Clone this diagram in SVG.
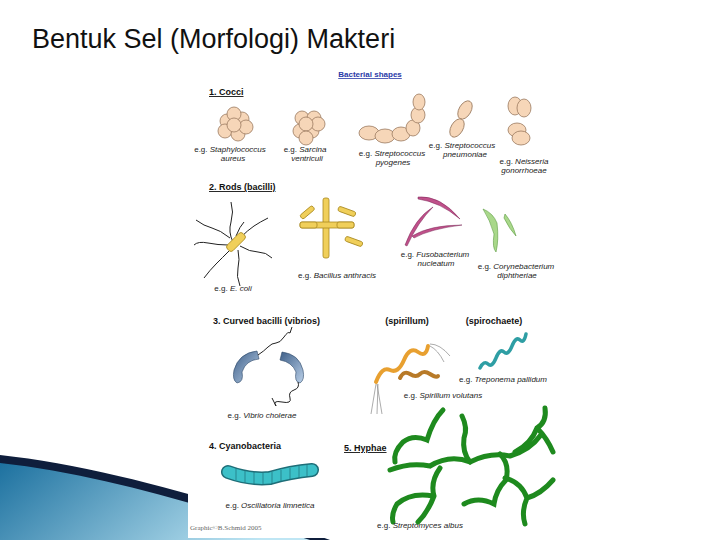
<svg xmlns="http://www.w3.org/2000/svg" width="720" height="540" viewBox="0 0 720 540">
<defs>
<style>
.t{font-family:"Liberation Sans",Arial,sans-serif;font-size:8px;fill:#222}
.h{font-family:"Liberation Sans",Arial,sans-serif;font-size:9px;font-weight:bold;fill:#111}
.c{fill:#f6d6b8;stroke:#9a7a60;stroke-width:0.8}
.r{fill:#f0cf5a;stroke:#a8881e;stroke-width:0.8}
.fl{fill:none;stroke:#222;stroke-width:1}
.hy{fill:none;stroke:#1e8a1e;stroke-width:5;stroke-linecap:round}
</style>
<linearGradient id="sw" x1="0" y1="0" x2="1" y2="0.3"><stop offset="0" stop-color="#1a6f9e"/><stop offset="1" stop-color="#bfe6f4"/></linearGradient>
<linearGradient id="vb" x1="0" y1="0" x2="1" y2="1"><stop offset="0" stop-color="#3e5f88"/><stop offset="1" stop-color="#b9cfe8"/></linearGradient>
</defs>
<rect width="720" height="540" fill="#fff"/>
<g id="swoosh">
<path d="M0,458 C100,470 220,505 330,540 L0,540 Z" fill="url(#sw)"/>
<path d="M0,455 C100,466 220,500 330,540 L310,540 C200,505 100,474 0,463 Z" fill="#0f1e3c"/>
</g>
<text x="32" y="48" font-family="Liberation Sans,Arial,sans-serif" font-size="27" fill="#111">Bentuk Sel (Morfologi) Makteri</text>
<g id="panel">
<rect x="188" y="63" width="367" height="475" fill="#fff"/>
<text x="370" y="77" class="t" text-anchor="middle" style="fill:#2a3aa8;font-weight:bold" text-decoration="underline">Bacterial shapes</text>
<text x="209" y="95" class="h" text-decoration="underline">1. Cocci</text>
<g id="staph">
<circle cx="227" cy="121" r="7" class="c"/><circle cx="242" cy="119" r="7" class="c"/><circle cx="234" cy="114" r="7" class="c"/>
<circle cx="225" cy="131" r="7" class="c"/><circle cx="238" cy="134" r="7" class="c"/><circle cx="246" cy="127" r="7" class="c"/><circle cx="234" cy="125" r="7" class="c"/>
</g>
<g id="sarcina">
<circle cx="302" cy="118" r="7" class="c"/><circle cx="314" cy="118" r="7" class="c"/><circle cx="300" cy="131" r="7" class="c"/><circle cx="312" cy="131" r="7" class="c"/>
<circle cx="318" cy="124" r="7" class="c"/><circle cx="306" cy="124" r="7" class="c"/><circle cx="306" cy="138" r="7" class="c"/>
</g>
<g id="strep">
<ellipse cx="369" cy="133" rx="10" ry="7" class="c"/><ellipse cx="385" cy="136" rx="10" ry="7" class="c"/><ellipse cx="401" cy="134" rx="9" ry="7" class="c"/>
<ellipse cx="413" cy="128" rx="7" ry="8" class="c"/><ellipse cx="418" cy="115" rx="7" ry="8" class="c"/><ellipse cx="419" cy="102" rx="6" ry="8" class="c"/>
</g>
<g id="pneu"><ellipse cx="465" cy="110" rx="6" ry="10" transform="rotate(30 465 110)" class="c"/><ellipse cx="457" cy="128" rx="6" ry="10" transform="rotate(30 457 128)" class="c"/></g>
<g id="neis"><ellipse cx="515" cy="106" rx="7" ry="9" class="c"/><ellipse cx="524" cy="108" rx="7" ry="9" class="c"/><ellipse cx="517" cy="130" rx="9" ry="7" class="c"/><ellipse cx="521" cy="138" rx="9" ry="7" class="c"/></g>
<text x="230" y="152" class="t" text-anchor="middle">e.g. <tspan font-style="italic">Staphylococcus</tspan></text>
<text x="233" y="161" class="t" text-anchor="middle" font-style="italic">aureus</text>
<text x="305" y="152" class="t" text-anchor="middle">e.g. <tspan font-style="italic">Sarcina</tspan></text>
<text x="307" y="161" class="t" text-anchor="middle" font-style="italic">ventriculi</text>
<text x="392" y="156" class="t" text-anchor="middle">e.g. <tspan font-style="italic">Streptococcus</tspan></text>
<text x="393" y="165" class="t" text-anchor="middle" font-style="italic">pyogenes</text>
<text x="462" y="148" class="t" text-anchor="middle">e.g. <tspan font-style="italic">Streptococcus</tspan></text>
<text x="465" y="157" class="t" text-anchor="middle" font-style="italic">pneumoniae</text>
<text x="524" y="164" class="t" text-anchor="middle">e.g. <tspan font-style="italic">Neisseria</tspan></text>
<text x="524" y="173" class="t" text-anchor="middle" font-style="italic">gonorrhoeae</text>
<text x="209" y="190" class="h" text-decoration="underline">2. Rods (bacilli)</text>
<g id="ecoli">
<path class="fl" d="M233,242 q-5,-10 -2,-20 t0,-20 M230,238 q-10,-8 -18,-10 t-16,-8 M228,245 q-10,0 -20,-2 t-14,2 M230,250 q-8,8 -14,14 t-12,14 M238,250 q2,10 0,18 t2,18 M240,246 q10,6 18,6 t14,6 M240,238 q8,-8 14,-12 t14,-8 M236,236 q4,-10 8,-14"/>
<rect x="225" y="238" width="22" height="8" rx="3" transform="rotate(-45 236 242)" class="r"/>
</g>
<g id="bacillus" class="r">
<rect x="323" y="198" width="6" height="60" rx="2"/><rect x="300" y="222" width="54" height="6" rx="2"/><rect x="300" y="222" width="17" height="6" rx="2"/><rect x="337" y="222" width="17" height="6" rx="2"/>
<rect x="299" y="210" width="16" height="5" rx="2" transform="rotate(-40 307 212)"/>
<rect x="338" y="209" width="18" height="5" rx="2" transform="rotate(20 347 211)"/>
<rect x="345" y="239" width="18" height="5" rx="2" transform="rotate(20 354 241)"/>
</g>
<g id="fuso" fill="#c0508a" stroke="#7a2a58" stroke-width="0.5">
<path d="M418,197 Q440,195 460,219 Q440,202 418,199 Z"/>
<path d="M405,245 Q415,218 433,207 Q418,222 407,246 Z"/>
<path d="M412,236 Q430,225 462,225 Q430,229 414,238 Z"/>
</g>
<g id="coryne" fill="#a9d88a" stroke="#5a9a40" stroke-width="0.6">
<path d="M483,209 Q493,213 497,223 Q499,240 496,252 Q492,248 494,234 Q490,220 483,209 Z"/>
<path d="M505,214 Q512,222 516,236 Q510,230 504,218 Z"/>
</g>
<text x="233" y="291" class="t" text-anchor="middle">e.g. <tspan font-style="italic">E. coli</tspan></text>
<text x="337" y="278" class="t" text-anchor="middle">e.g. <tspan font-style="italic">Bacillus anthracis</tspan></text>
<text x="435" y="257" class="t" text-anchor="middle">e.g. <tspan font-style="italic">Fusobacterium</tspan></text>
<text x="436" y="266" class="t" text-anchor="middle" font-style="italic">nucleatum</text>
<text x="516" y="269" class="t" text-anchor="middle">e.g. <tspan font-style="italic">Corynebacterium</tspan></text>
<text x="517" y="278" class="t" text-anchor="middle" font-style="italic">diphtheriae</text>
<text x="213" y="324" class="h">3. Curved bacilli (vibrios)</text>
<text x="407" y="324" class="h" text-anchor="middle">(spirillum)</text>
<text x="494" y="324" class="h" text-anchor="middle">(spirochaete)</text>
<g id="vibrio">
<path d="M257,351 Q239,353 234,370 Q232,380 237,383 Q244,382 242,372 Q246,360 259,359 Z" fill="url(#vb)" stroke="#2e4868" stroke-width="0.6"/>
<path d="M282,352 Q299,354 303,370 Q305,380 300,383 Q294,382 296,372 Q292,362 280,360 Z" fill="url(#vb)" stroke="#2e4868" stroke-width="0.6"/>
<path class="fl" d="M258,355 q6,-4 10,-8 t8,-4 t8,-6 t6,-4 l2,-6 M298,382 q2,6 -4,8 t-4,8 t-8,4 t-6,4 l-4,-8"/>
</g>
<g id="spirillum">
<path d="M376,382 q6,-16 14,-12 t14,-10 t14,-8 t10,-6" fill="none" stroke="#e8a030" stroke-width="4" stroke-linecap="round"/>
<path d="M400,378 q4,-8 10,-4 t10,0 t10,0 t8,2" fill="none" stroke="#b87a28" stroke-width="4" stroke-linecap="round"/>
<path d="M376,384 l-5,30 M377,384 l5,30 M378,384 l-1,30 M430,344 q10,0 20,12 M430,346 q8,4 14,16" fill="none" stroke="#888" stroke-width="0.7"/>
</g>
<path id="spirochaete" d="M480,368 q4,-8 8,-4 t8,-6 t8,-6 t8,-6 t8,-6 t6,-6" fill="none" stroke="#2e9ea4" stroke-width="3.5" stroke-linecap="round"/>
<text x="262" y="418" class="t" text-anchor="middle">e.g. <tspan font-style="italic">Vibrio cholerae</tspan></text>
<text x="443" y="398" class="t" text-anchor="middle">e.g. <tspan font-style="italic">Spirillum volutans</tspan></text>
<text x="503" y="382" class="t" text-anchor="middle">e.g. <tspan font-style="italic">Treponema pallidum</tspan></text>
<text x="209" y="449" class="h">4. Cyanobacteria</text>
<text x="344" y="451" class="h" text-decoration="underline">5. Hyphae</text>
<g id="oscillatoria">
<path d="M228,472 Q250,480 270,478 Q290,472 312,470" fill="none" stroke="#1e6e78" stroke-width="14" stroke-linecap="round"/>
<path d="M228,472 Q250,480 270,478 Q290,472 312,470" fill="none" stroke="#3cc0c8" stroke-width="11" stroke-linecap="round"/>
<path d="M236,468 v12 M245,471 v12 M254,472 v12 M263,473 v12 M272,472 v12 M281,470 v12 M290,468 v12 M299,466 v12 M307,465 v12" stroke="#1e6e78" stroke-width="0.7"/>
</g>
<g id="hyphae" class="hy">
<path d="M443,410 q-10,10 -16,30 q-14,-6 -24,2 q-10,10 -8,20"/>
<path d="M390,470 q20,-8 40,-4 q20,-12 40,-4 q20,-10 40,-6 q20,-6 30,-20"/>
<path d="M440,468 q-10,14 -6,28 q-6,16 -16,26 M433,496 q-22,-4 -36,8 q-6,10 -4,18"/>
<path d="M470,462 q-8,-10 -6,-24 q4,-10 -2,-22"/>
<path d="M500,454 q10,10 6,26 q-10,10 -12,24 q-16,-8 -30,0"/>
<path d="M505,478 q16,4 22,20 q-6,14 -2,26 M527,498 q14,-4 26,-18"/>
<path d="M515,452 q16,-8 22,-24 q10,-6 8,-20 M537,428 q10,10 16,24"/>
</g>
<text x="420" y="528" class="t" text-anchor="middle">e.g. <tspan font-style="italic">Streptomyces albus</tspan></text>
<text x="270" y="508" class="t" text-anchor="middle">e.g. <tspan font-style="italic">Oscillatoria limnetica</tspan></text>
<text x="190" y="530" font-family="Liberation Serif,serif" font-size="7" fill="#666">Graphic©B.Schmid 2005</text>
</g>
</svg>
